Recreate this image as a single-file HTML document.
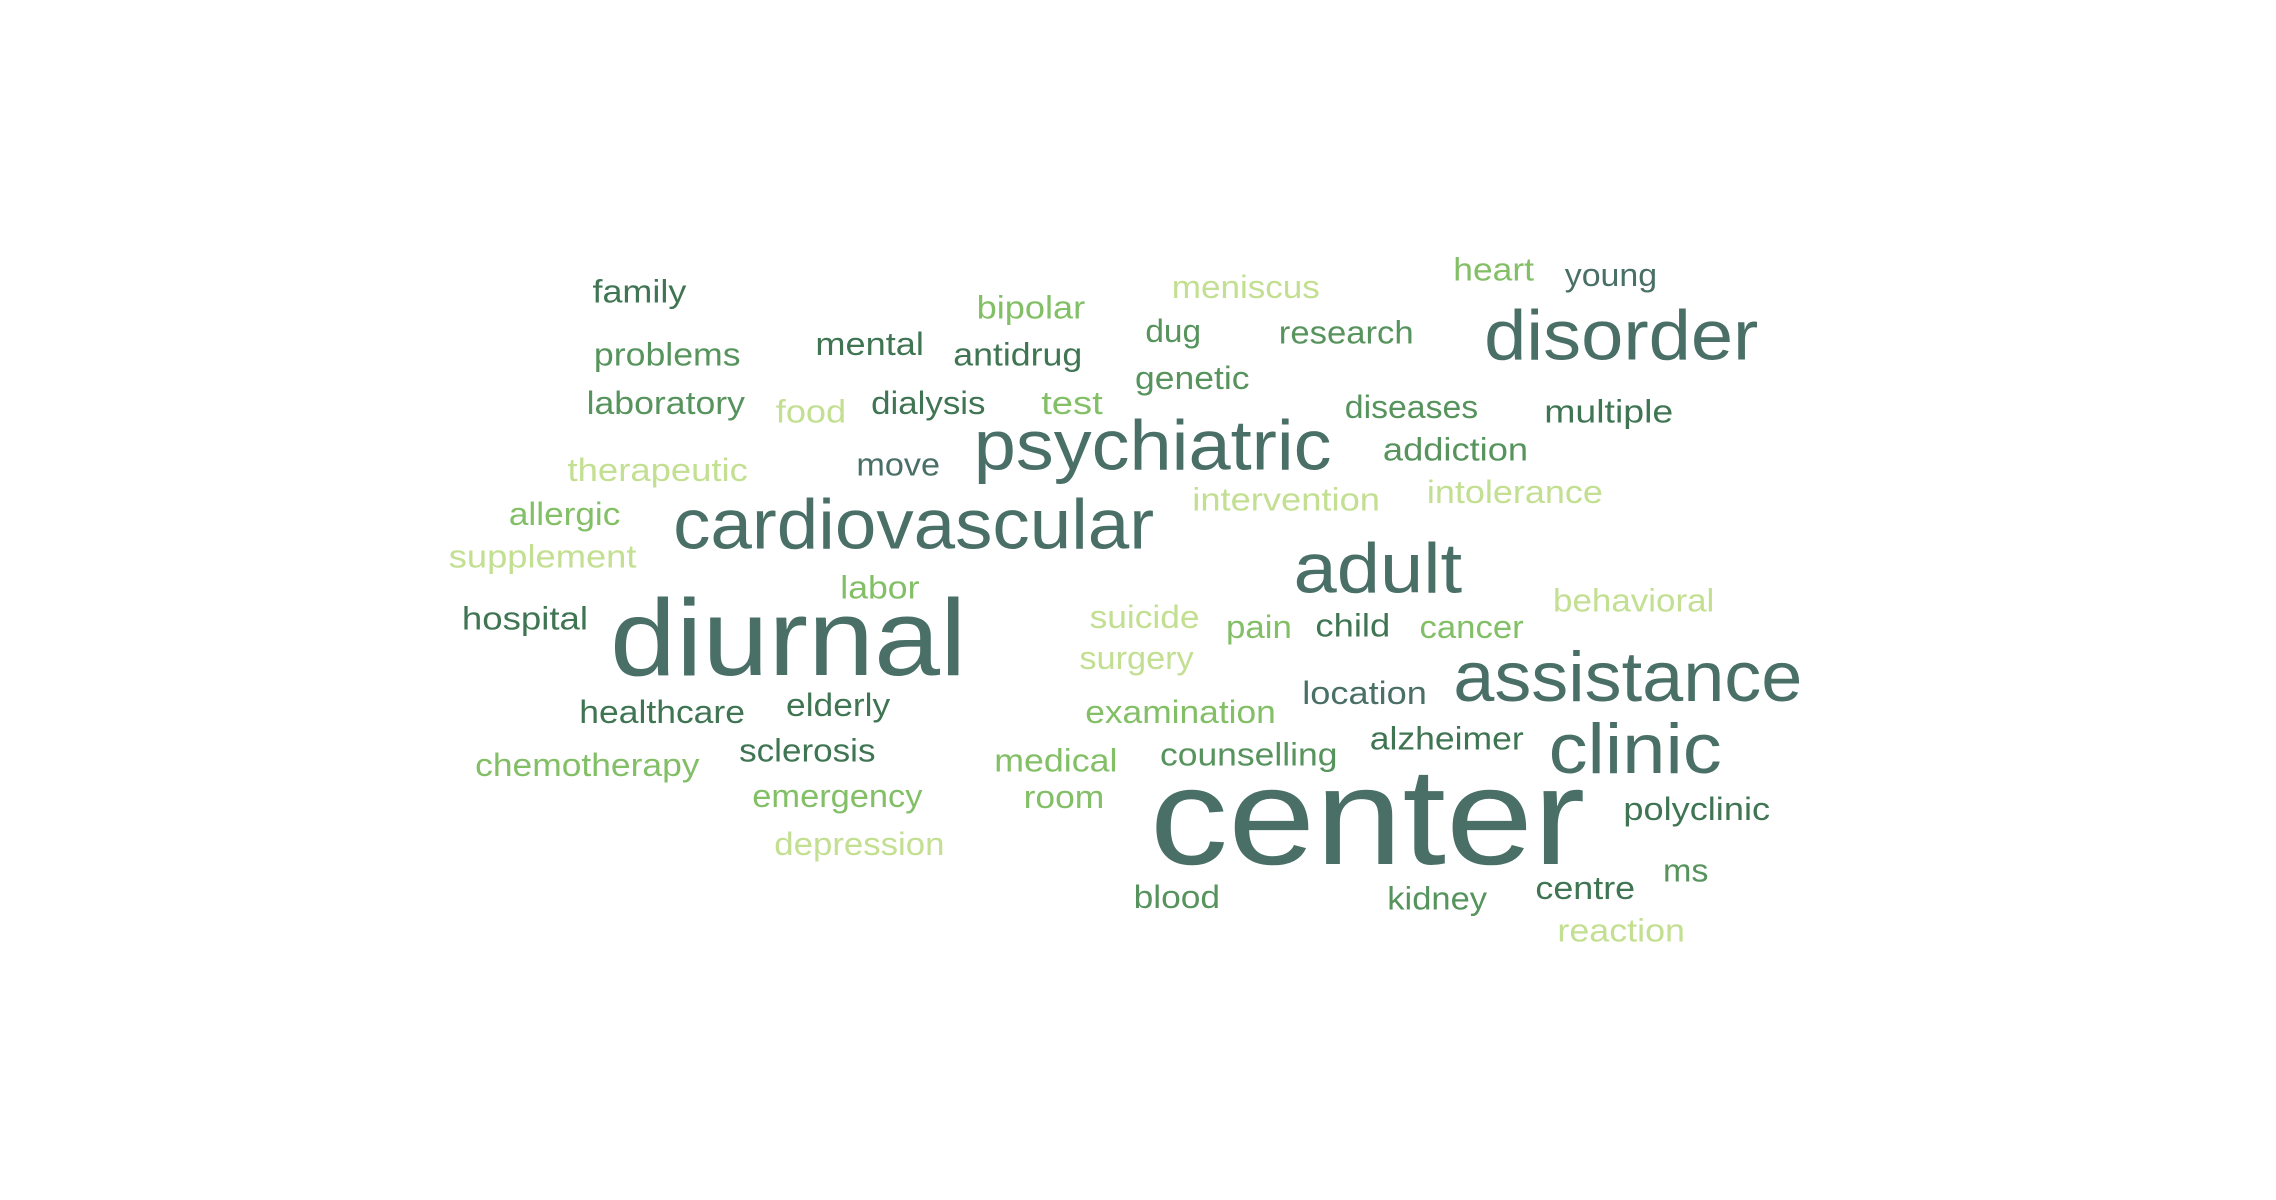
<!DOCTYPE html>
<html><head><meta charset="utf-8"><style>
html,body{margin:0;padding:0;background:#fff;}
svg{display:block;}
text{font-family:"Liberation Sans",sans-serif;}
</style></head>
<body>
<svg width="2276" height="1200" viewBox="0 0 1552 818" xmlns="http://www.w3.org/2000/svg"><g id="cloud" transform="translate(-4,-2)"></g></svg>
<script>
const words=["family","meniscus","heart","young","bipolar","disorder","dug","research","mental","problems","antidrug","genetic","laboratory","food","dialysis","test","diseases","multiple","psychiatric","addiction","therapeutic","move","intervention","intolerance","allergic","cardiovascular","supplement","adult","labor","behavioral","hospital","diurnal","suicide","pain","child","cancer","surgery","assistance","location","healthcare","elderly","examination","alzheimer","clinic","chemotherapy","sclerosis","medical","counselling","emergency","room","center","polyclinic","depression","ms","blood","kidney","centre","reaction"];
const sizes=[22,22,22,22,22,48,22,22,22,22,22,22,22,22,22,22,22,22,48,22,22,22,22,22,22,48,22,48,22,22,22,74,22,22,22,22,22,48,22,22,22,22,22,48,22,22,22,22,22,22,94,22,22,22,22,22,22,22];
const tones=[1,4,3,0,3,0,2,2,1,2,1,2,2,4,1,3,2,1,0,2,4,0,4,4,3,0,4,0,3,4,1,0,4,3,1,3,4,0,0,1,1,3,1,0,3,1,3,2,3,3,0,1,4,2,2,2,1,4];
const lefts=[408,803,995,1071,670,1016,785,876,560,409,654,778,404,533,598,714,921,1057,668,947,391,588,817,977,351,463,310,886,577,1063,319,420,747,840,901,972,740,995,892,399,540,744,938,1060,328,508,682,795,517,702,788,1111,532,1138,777,950,1051,1066];
const rights=[472,904,1050,1134,744,1203,823,968,634,509,742,856,512,581,676,756,1012,1145,912,1046,514,645,945,1097,427,791,438,1001,631,1173,405,663,822,885,952,1043,818,1233,977,512,611,874,1043,1178,481,601,766,916,633,757,1085,1211,648,1169,836,1018,1119,1153];
const baselines=[208,205,193,197,219,247,235,236,244,251,251,267,284,290,284,284,287,290,322,316,330,326,350,345,360,376,389,406,410,419,431,462,430,437,436,437,458,480,482,495,490,495,513,529,531,521,528,524,552,553,591,561,585,603,621,622,615,644];
const palette=["#496f66","#3f7553","#57935d","#83bf66","#c3df91"];
const g=document.getElementById('cloud');
const NS="http://www.w3.org/2000/svg";
for(let i=0;i<words.length;i++){
  const t=document.createElementNS(NS,'text');
  
  
  t.setAttribute('x',lefts[i]);
  t.setAttribute('y',baselines[i]);
  t.setAttribute('font-size',sizes[i]);
  t.setAttribute('fill',palette[tones[i]]);
  t.setAttribute('textLength',rights[i]-lefts[i]);
  t.setAttribute('lengthAdjust','spacingAndGlyphs');
  t.textContent=words[i];
  g.appendChild(t);
}
</script>
</body></html>
